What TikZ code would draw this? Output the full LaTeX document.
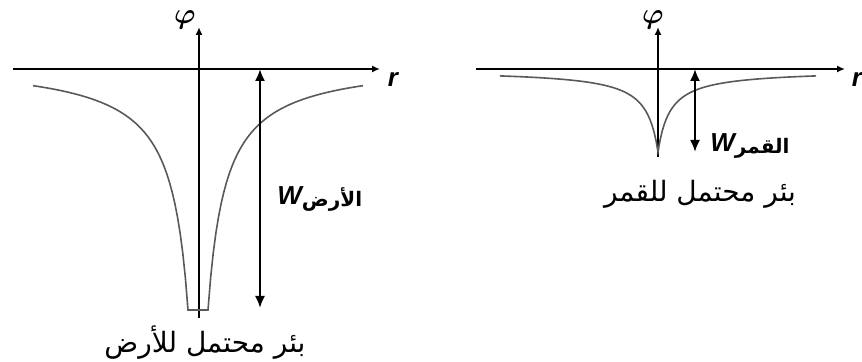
\documentclass[tikz,border=0pt]{standalone}
\usepackage{amsmath}
\usepackage{fontspec}
\usetikzlibrary{arrows.meta}
\newfontfamily\arabicfont[Script=Arabic]{DejaVu Sans}
\newfontfamily\latinfont{Liberation Sans}
\TeXXeTstate=1

\begin{document}
\begin{tikzpicture}[x=0.5pt, y=-0.5pt,
    axis/.style={line width=1pt, -{Latex[length=4pt, width=3.5pt]}},
    well/.style={line width=0.8pt, gray!70!black},
    warr/.style={line width=1pt, {Latex[length=6pt, width=5pt]}-{Latex[length=6pt, width=5pt]}},
    wellname/.style={font=\arabicfont\fontsize{14}{16}\selectfont},
    depth/.style={anchor=west, inner sep=0pt},
    var/.style={font=\fontsize{14}{16}\selectfont},
    rvar/.style={font=\latinfont\bfseries\itshape\fontsize{13}{15}\selectfont},
]
    \useasboundingbox (0,0) rectangle (862,362);

    % Earth
    \coordinate (eL) at (13,69);
    \coordinate (eR) at (380,69);
    \coordinate (eB) at (199,318);
    \coordinate (eT) at (199,27);
    \draw[axis] (eL) -- (eR);
    \draw[axis] (eB) -- (eT);
    \node[var] (ephi) at (185,20) {$\boldsymbol{\varphi}$};
    \node[rvar] (er) at (393,80) {r};

    \draw[well] plot[domain=-165:-10, samples=60] ({198+\x},{60+4433/(-\x+7.73)})
        -- plot[domain=10:165, samples=60] ({198+\x},{60+4433/(\x+7.73)});

    \coordinate (ewTop) at (260,69);
    \coordinate (ewBot) at (260,308);
    \draw[warr] (ewTop) -- (ewBot);
    \node[depth] (ew) at (277,199) {{\latinfont\bfseries\itshape\fontsize{13}{15}\selectfont W}\raisebox{-1pt}{\arabicfont\bfseries\fontsize{10}{12}\selectfont\beginR الأرض\endR}};
    \node[wellname] (ename) at (205,343) {\beginR بئر محتمل للأرض\endR};

    % Moon
    \coordinate (mL) at (476,69);
    \coordinate (mR) at (845,69);
    \coordinate (mB) at (658,157);
    \coordinate (mT) at (658,27);
    \draw[axis] (mL) -- (mR);
    \draw[axis] (mB) -- (mT);
    \node[var] (mphi) at (653,20) {$\boldsymbol{\varphi}$};
    \node[rvar] (mr) at (857,80) {r};

    \draw[well] plot[domain=-158:158, samples=159] ({658+\x},{70+1006/(abs(\x)+12.27)});

    \coordinate (mwTop) at (695,69);
    \coordinate (mwBot) at (695,152);
    \draw[warr] (mwTop) -- (mwBot);
    \node[depth] (mw) at (710,146) {{\latinfont\bfseries\itshape\fontsize{13}{15}\selectfont W}\raisebox{-1pt}{\arabicfont\bfseries\fontsize{10}{12}\selectfont\beginR القمر\endR}};
    \node[wellname] (mname) at (700,194) {\beginR بئر محتمل للقمر\endR};
\end{tikzpicture}
\end{document}
